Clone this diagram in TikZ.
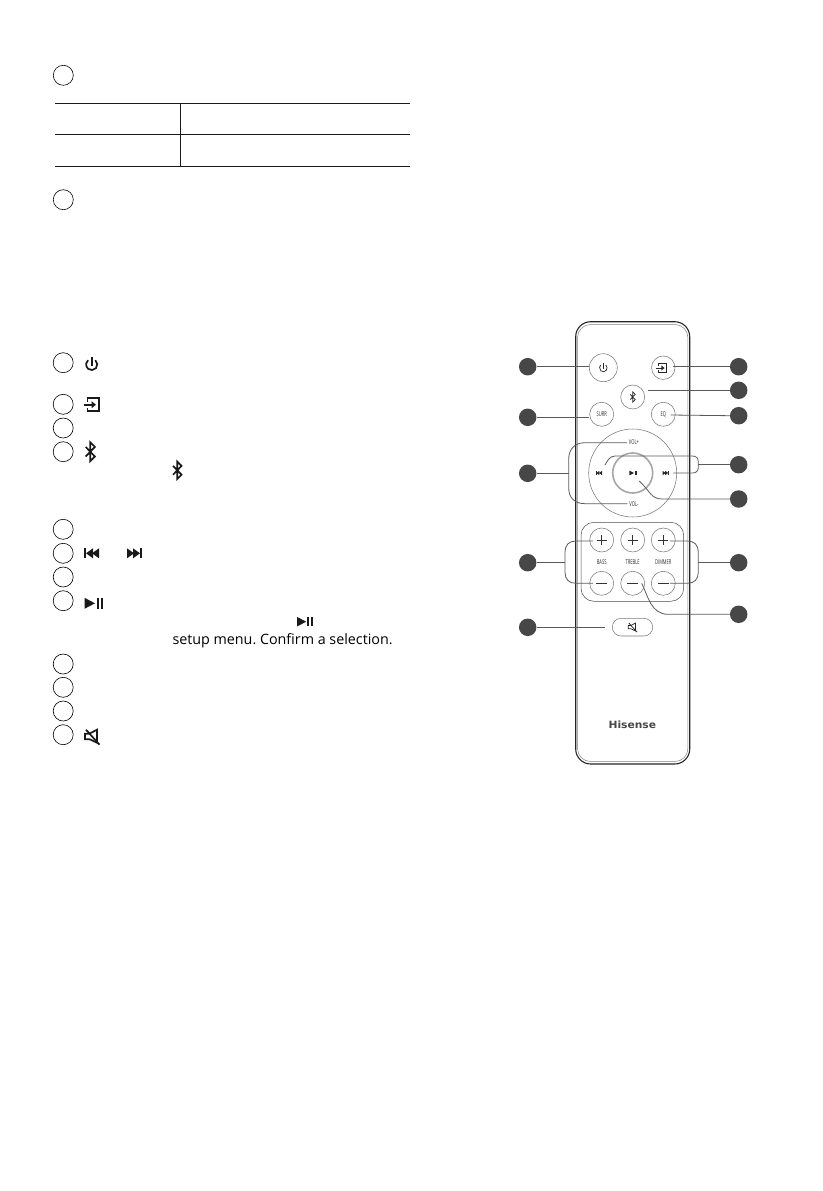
\documentclass[tikz,border=0pt]{standalone}
\usepackage{fontspec}
\setmainfont{Open Sans}
\newfontfamily\dejab{DejaVu Sans}
\usetikzlibrary{calc}
\definecolor{lead}{HTML}{5A5A5A}
\definecolor{btn}{HTML}{7A7A7A}
\definecolor{dot}{HTML}{474747}
\tikzset{
 callout/.style={circle,fill=dot,minimum size=17.5pt,inner sep=0pt},
 itemring/.style={circle,draw=black,line width=0.6pt,minimum size=20pt,inner sep=0pt},
 leader/.style={draw=lead,line width=0.8pt},
 rbtn/.style={circle,draw=btn,line width=0.55pt,inner sep=0pt,minimum size=#1},
 tiny/.style={inner sep=0pt,text=black!85,font=\fontsize{6.6}{7}\selectfont},
 rule/.style={line width=0.8pt,draw=black!90},
 iconbig/.style={line width=1.7pt,color=black!90},
 iconsmall/.style={line width=0.75pt,color=black!85,scale=0.55},
 bt/.pic={\draw[line join=miter] (-4.6,-4.8)--(4.6,4.8)--(0,9.4)--(0,-9.4)--(4.6,-4.8)--(-4.6,4.8);},
 pwr/.pic={\draw (3.6,-4.4) arc (-50:230:5.6); \draw (0,-7.2)--(0,1);},
 inp/.pic={\draw (-4.5,-3.2)--(-4.5,-6.5)--(7,-6.5)--(7,6.5)--(-4.5,6.5)--(-4.5,3.2);
   \draw (-8,0)--(0,0); \fill (-0.5,-3.6)--(4,0)--(-0.5,3.6)--cycle;},
 prevv/.pic={\fill (-11,-5)rectangle(-9,5); \fill (-9,0)--(-2,-5)--(-2,5)--cycle; \fill (-3,0)--(4,-5)--(4,5)--cycle;},
 nextt/.pic={\fill (11,-5)rectangle(9,5); \fill (9,0)--(2,-5)--(2,5)--cycle; \fill (3,0)--(-4,-5)--(-4,5)--cycle;},
 pp/.pic={\fill (-9.5,-5.5)--(1,0)--(-9.5,5.5)--cycle; \fill (2.5,-5.5)rectangle(4.7,5.5); \fill (6.5,-5.5)rectangle(8.7,5.5);},
 mute/.pic={\draw[line join=miter] (-7,-3)--(-2.5,-3)--(5,-7)--(5,6)--(-2.5,2.5)--(-7,2.5)--cycle; \draw (-6,-7)--(7.5,8);},
}
\begin{document}
\begin{tikzpicture}[x=1pt,y=-1pt]
\useasboundingbox (0,0) rectangle (822,1191);
% --- left column: empty item rings
\node[itemring] (o0) at (63.3,75.3) {};
\node[itemring] (o00) at (63.3,199.7) {};
\foreach \n/\y in {a/362.7,b/404.3,c/428,d/451.7,e/529.3,f/553.3,g/577,h/600.7,i/664,j/687.3,k/711,l/734.7}
  \node[itemring] (o\n) at (63.2,\y) {};
% table
\draw[rule] (55,103.3)--(410,103.3);
\draw[rule] (55,134.3)--(410,134.3);
\draw[rule] (55,166.3)--(410,166.3);
\draw[rule] (180.3,103.3)--(180.3,166.3);
% left icons
\pic[iconbig] at (91.7,364.6) {pwr};
\pic[iconbig] at (92,404.7) {inp};
\pic[iconbig] at (90.3,451.7) {bt};
\pic[iconbig,scale=0.92] at (177.3,470.3) {bt};
\pic[iconbig] at (95,553.3) {prevv};
\pic[iconbig] at (131,553.3) {nextt};
\pic[iconbig] at (94,603.3) {pp};
\pic[iconbig,scale=0.85] at (305.3,621.7) {pp};
\pic[iconbig] at (92,736.7) {mute};
\node[anchor=base west,inner sep=0pt,font=\fontsize{14.3}{16}\selectfont] (setup) at (172.3,644) {\frenchspacing setup menu. Confirm a selection.};
% --- remote body
\draw[line width=1.1pt,draw=black!85,rounded corners=15pt] (575.7,321.7) rectangle (689.7,764);
\draw[line width=0.5pt,draw=black!50,rounded corners=13pt] (577.5,324.5) rectangle (687.9,761.5);
% buttons
\node[rbtn=28pt] (power) at (603.3,367.7) {};
\node[rbtn=23.5pt] (input) at (663.3,367.7) {};
\node[rbtn=24pt] (blue) at (632.7,397) {};
\node[rbtn=24pt] (surr) at (601.7,414.3) {};
\node[rbtn=24pt] (eq) at (663.3,414.3) {};
\node[rbtn=88pt] (wheel) at (632.7,473) {};
\node[circle,draw=black!35,line width=1.6pt,minimum size=40pt,inner sep=0pt] (inner) at (632.7,473) {};
\draw[draw=black!70,line width=0.5pt,rounded corners=13pt] (581,522.3) rectangle (683.7,601.3);
\node[rbtn=24pt] (bassp) at (601.7,540) {};
\node[rbtn=24pt] (trebp) at (632.7,540) {};
\node[rbtn=24pt] (dimp) at (663.3,540) {};
\node[rbtn=24pt] (bassm) at (601.7,583.3) {};
\node[rbtn=24pt] (trebm) at (632.7,583.3) {};
\node[rbtn=24pt] (dimm) at (663.3,583.3) {};
\draw[draw=btn,line width=0.55pt,rounded corners=8.8pt] (612.3,618.3) rectangle (652.7,636);
\node[inner sep=0pt,minimum width=40pt,minimum height=17.5pt] (mutebtn) at (632.5,627.2) {};
% button marks
\foreach \b in {bassp,trebp,dimp}
  \draw[line width=0.6pt,black!80] ($(\b)+(-5,0)$)--($(\b)+(5,0)$) ($(\b)+(0,-5)$)--($(\b)+(0,5)$);
\foreach \b in {bassm,trebm,dimm}
  \draw[line width=0.6pt,black!80] ($(\b)+(-5.5,0)$)--($(\b)+(5.5,0)$);
\pic[line width=0.7pt,color=black!85,scale=0.68] at (603.3,368) {pwr};
\pic[iconsmall,scale=1.25] at (661.8,368) {inp};
\pic[iconsmall] at (632.7,397) {bt};
\pic[iconsmall,scale=0.78] at (600.3,473) {prevv};
\pic[iconsmall,scale=0.78] at (664.3,473) {nextt};
\pic[iconsmall,scale=0.8] at (633.5,473) {pp};
\pic[iconsmall,scale=1.1] at (632.5,627.3) {mute};
% labels
\node[tiny] (lsurr) at (601.7,414.5) {\scalebox{0.62}[1]{SURR}};
\node[tiny] (leq) at (663.3,414.5) {\scalebox{0.62}[1]{EQ}};
\node[tiny] (lvolp) at (634,442) {\scalebox{0.62}[1]{VOL+}};
\node[tiny] (lvolm) at (634,504.3) {\scalebox{0.62}[1]{VOL-}};
\node[tiny] (lbass) at (601.7,561.7) {\scalebox{0.62}[1]{BASS}};
\node[tiny] (ltreb) at (632.7,561.7) {\scalebox{0.62}[1]{TREBLE}};
\node[tiny] (ldim) at (663.3,561.7) {\scalebox{0.62}[1]{DIMMER}};
\node[inner sep=0pt,text=black!72,font=\dejab\bfseries\fontsize{10}{11}\selectfont] (brand) at (632.3,725) {\scalebox{1.07}[1]{Hisense}};
% callouts
\node[callout] (c1) at (527.7,366.7) {};
\node[callout] (c2) at (527.7,417.3) {};
\node[callout] (c3) at (527.7,473.3) {};
\node[callout] (c4) at (527.7,562.7) {};
\node[callout] (c5) at (527.7,627.3) {};
\node[callout] (d1) at (738.7,366.7) {};
\node[callout] (d2) at (738.7,390.3) {};
\node[callout] (d3) at (738.7,415.7) {};
\node[callout] (d4) at (738.7,464.7) {};
\node[callout] (d5) at (738.7,499) {};
\node[callout] (d6) at (738.7,562.7) {};
\node[callout] (d7) at (738.7,614.3) {};
% free ends
\coordinate (bl) at (568.7,473.3);
\coordinate (br) at (698.3,464.7);
\coordinate (bsl) at (565,562.7);
\coordinate (bsr) at (698.3,562.7);
% connectors
\draw[leader] (c1.east)--(power.west |- c1.east);
\draw[leader] (c2.east)--(surr.west |- c2.east);
\draw[leader] (c3.east)--(bl);
\draw[leader] ($(lvolp.west)+(-2,0.7)$)--(585,442.7) .. controls (575,442.7) and (568.7,449) .. (568.7,459)--(568.7,488) .. controls (568.7,498) and (575,503.7) .. (585,503.7)--($(lvolm.west)+(-2,-0.6)$);
\draw[leader] (c4.east)--(bsl);
\draw[leader] ($(bassp)+(-8.5,1)$)--(576,541) .. controls (569,541) and (565,545) .. (565,552)--(565,572.3) .. controls (565,579.3) and (569,583.3) .. (576,583.3)--($(bassm)+(-8.5,0)$);
\draw[leader] (c5.east)--(605.3,627.3);
\draw[leader] (d1.west)--(673.3,366.7);
\draw[leader] (d2.west)--(648.3,390.3);
\draw[leader] (d3.west)--(670.7,415);
\draw[leader] (d4.west)--(br);
\draw[leader] (605,465) .. controls (607,462) and (609,456) .. (615,456)--(692.3,456) .. controls (696.3,456) and (698.3,458) .. (698.3,462)--(698.3,467) .. controls (698.3,471) and (696.3,473) .. (692.3,473)--(673.3,473);
\draw[leader] (d5.west)--(662,499) .. controls (651,499) and (650,491) .. (639.3,481);
\draw[leader] (d6.west)--(bsr);
\draw[leader] ($(dimp)+(6.5,1)$)--(687.3,541) .. controls (694.3,541) and (698.3,545) .. (698.3,552)--(698.3,572.3) .. controls (698.3,579.3) and (694.3,583.3) .. (687.3,583.3)--($(dimm)+(6.5,0)$);
\draw[leader] (d7.west)--(668,614.3) .. controls (651,614.3) and (648,596) .. (641.7,583.3);
\end{tikzpicture}
\end{document}
